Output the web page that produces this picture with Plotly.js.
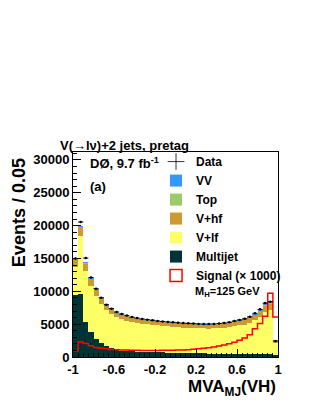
<!DOCTYPE html>
<html>
<head>
<meta charset="utf-8">
<script src="https://cdn.plot.ly/plotly-3.0.1.min.js"></script>
<style>html,body{margin:0;padding:0;background:#fff;}#chart{width:316px;height:409px;}</style>
</head>
<body>
<div id="chart"></div>
<script>
// 40 bins of width 0.05 from -1 to 1
const binLow = -1, binWidth = 0.05, nBins = 40;

const multijet = [9400, 9600, 5400, 3850, 2750, 2100, 1600, 1350, 1100, 950,
  900, 850, 800, 780, 760, 740, 720, 700, 680, 660,
  640, 620, 600, 580, 560, 540, 520, 500, 490, 480,
  470, 460, 450, 450, 450, 450, 450, 450, 450, 300];
const vlf = [4310, 8890, 7700, 6960, 6480, 6020, 5520, 5210, 5000, 4830,
  4650, 4500, 4420, 4300, 4200, 4150, 4080, 4020, 3980, 3930,
  3890, 3860, 3830, 3810, 3800, 3800, 3810, 3850, 3890, 3970,
  4080, 4210, 4350, 4490, 4730, 5140, 5630, 6420, 6720, 1840];
const vhf = [1000, 1250, 1100, 1000, 900, 820, 740, 700, 660, 640,
  620, 610, 600, 590, 580, 575, 570, 565, 560, 560,
  560, 560, 560, 560, 560, 560, 565, 570, 580, 590,
  600, 620, 650, 680, 720, 780, 850, 950, 900, 250];
const topBkg = [40, 60, 60, 55, 50, 50, 45, 45, 45, 45,
  45, 45, 45, 45, 45, 45, 45, 45, 45, 45,
  45, 45, 45, 45, 45, 45, 45, 45, 45, 45,
  50, 50, 50, 55, 55, 60, 70, 80, 80, 20];
const vv = [100, 150, 140, 130, 120, 110, 100, 95, 90, 90,
  90, 90, 90, 90, 90, 90, 90, 90, 90, 90,
  90, 90, 90, 90, 90, 90, 90, 90, 95, 100,
  105, 110, 120, 130, 150, 170, 200, 250, 250, 40];
const dataVals = [15000, 20550, 15050, 12100, 10400, 9000, 7950, 7350, 6850, 6550,
  6300, 6080, 5920, 5780, 5680, 5600, 5480, 5400, 5340, 5280,
  5220, 5160, 5120, 5080, 5040, 5020, 5020, 5040, 5100, 5180,
  5300, 5480, 5650, 5820, 6120, 6650, 7250, 8200, 8420, 2450];
const dataErr = [122, 143, 123, 110, 102, 95, 89, 86, 83, 81,
  79, 78, 77, 76, 75, 75, 74, 73, 73, 73,
  72, 72, 72, 71, 71, 71, 71, 71, 71, 72,
  73, 74, 75, 76, 78, 82, 85, 91, 92, 49];
const signal = [950, 2300, 2050, 1700, 1450, 1350, 1250, 1150, 1100, 1050,
  1050, 1030, 1010, 1000, 990, 990, 1000, 1010, 1020, 1040,
  1050, 1080, 1120, 1180, 1250, 1330, 1420, 1530, 1660, 1820,
  2000, 2250, 2550, 2900, 3400, 4300, 5100, 6200, 9700, 6100];

const xTickVals = [-1, -0.6, -0.2, 0.2, 0.6, 1];
const xTickText = ['-1', '-0.6', '-0.2', '0.2', '0.6', '1'];
const yTickVals = [0, 5000, 10000, 15000, 20000, 25000, 30000];
const yTickText = ['0', '5000', '10000', '15000', '20000', '25000', '30000'];

const centers = [];
const edges = [];
for (let i = 0; i < nBins; i++) {
  centers.push(binLow + binWidth * (i + 0.5));
  edges.push(binLow + binWidth * i);
}
edges.push(binLow + binWidth * nBins);
const sigStep = signal.concat([signal[signal.length - 1]]);
const halfW = centers.map(() => binWidth / 2);

const FONT = 'Liberation Sans, Arial, Helvetica, sans-serif';

function barTrace(name, y, color, rank) {
  return {
    type: 'bar', x: centers, y: y, name: name, width: binWidth,
    marker: {color: color, line: {width: 0}},
    legendrank: rank, hoverinfo: 'skip'
  };
}

const traces = [
  barTrace('Multijet', multijet, '#003333', 6),
  barTrace('V+lf', vlf, '#ffff66', 5),
  barTrace('V+hf', vhf, '#cc9933', 4),
  barTrace('Top', topBkg, '#99cc66', 3),
  barTrace('VV', vv, '#3399ff', 2),
  {
    type: 'scatter', mode: 'lines', x: edges, y: sigStep, line: {shape: 'hv', color: '#ff0000', width: 1.5},
    showlegend: false, hoverinfo: 'skip'
  },
  {
    type: 'bar', x: [null], y: [null], name: 'Signal (× 1000)',
    marker: {color: 'rgba(255,255,255,0)', line: {color: '#ff0000', width: 1.5}},
    legendrank: 7, showlegend: true
  },
  {
    type: 'scatter', mode: 'markers', x: centers, y: dataVals, name: 'Data',
    marker: {symbol: 'circle', size: 2.5, color: '#000'},
    error_y: {type: 'data', array: dataErr, visible: true, color: '#000', thickness: 1, width: 0},
    error_x: {type: 'data', array: halfW, visible: true, color: '#000', thickness: 1, width: 0},
    showlegend: false, hoverinfo: 'skip'
  },
  {
    type: 'scatter', mode: 'markers', x: [null], y: [null], name: 'Data',
    marker: {symbol: 'cross-thin', size: 12, color: '#000', line: {color: '#000', width: 0.8}},
    legendrank: 1, showlegend: true
  }
];

const layout = {
  width: 316, height: 409,
  margin: {l: 73, r: 37.5, t: 152, b: 52},
  paper_bgcolor: '#fff', plot_bgcolor: '#fff',
  barmode: 'stack', bargap: 0,
  font: {family: FONT, size: 13, color: '#000', weight: 'bold'},
  title: {
    text: 'V(→lν)+2 jets, pretag', xref: 'container', yref: 'container',
    x: 60 / 316, xanchor: 'left', y: 1 - 145 / 409, yanchor: 'middle',
    font: {family: FONT, size: 13, weight: 'bold', color: '#000'}
  },
  showlegend: true,
  legend: {
    x: 0.405, y: 1.024, xanchor: 'left', yanchor: 'top',
    bgcolor: 'rgba(255,255,255,0)', borderwidth: 0,
    font: {family: FONT, size: 12, weight: 'bold', color: '#000'},
    traceorder: 'normal', itemsizing: 'trace'
  },
  xaxis: {
    range: [-1, 1], tickmode: 'array', tickvals: xTickVals, ticktext: xTickText,
    ticks: 'inside', ticklen: 8, tickwidth: 1, tickcolor: '#000',
    minor: {dtick: 0.05, tick0: -1, ticks: 'inside', ticklen: 4, tickcolor: '#000', showgrid: false},
    showline: true, linecolor: '#000', linewidth: 1, mirror: true,
    showgrid: false, zeroline: false,
    tickfont: {family: FONT, size: 13, weight: 'bold', color: '#000'}
  },
  yaxis: {
    range: [0, 31200], tickmode: 'array', tickvals: yTickVals, ticktext: yTickText,
    ticks: 'inside', ticklen: 8, tickwidth: 1, tickcolor: '#000',
    minor: {dtick: 1000, tick0: 0, ticks: 'inside', ticklen: 4, tickcolor: '#000', showgrid: false},
    showline: true, linecolor: '#000', linewidth: 1, mirror: true,
    showgrid: false, zeroline: false,
    tickfont: {family: FONT, size: 13, weight: 'bold', color: '#000'}
  },
  annotations: [
    {text: 'Events / 0.05', xref: 'paper', yref: 'paper', x: (19 - 73) / 205.5, y: (357 - 213) / 205,
     xanchor: 'center', yanchor: 'middle', textangle: -90, showarrow: false,
     font: {family: FONT, size: 18, weight: 'bold'}},
    {text: 'MVA<sub>MJ</sub>(VH)', xref: 'paper', yref: 'paper', x: 1, y: (357 - 388) / 205,
     xanchor: 'right', yanchor: 'middle', showarrow: false,
     font: {family: FONT, size: 17, weight: 'bold'}},
    {text: 'DØ, 9.7 fb<sup>-1</sup>', xref: 'paper', yref: 'paper', x: (88 - 73) / 205.5, y: (357 - 163) / 205,
     xanchor: 'left', yanchor: 'middle', showarrow: false,
     font: {family: FONT, size: 13, weight: 'bold'}},
    {text: '(a)', xref: 'paper', yref: 'paper', x: (88 - 73) / 205.5, y: (357 - 186) / 205,
     xanchor: 'left', yanchor: 'middle', showarrow: false,
     font: {family: FONT, size: 13, weight: 'bold'}},
    {text: 'M<sub>H</sub>=125 GeV', xref: 'paper', yref: 'paper', x: (193 - 73) / 205.5, y: (357 - 292) / 205,
     xanchor: 'left', yanchor: 'middle', showarrow: false,
     font: {family: FONT, size: 11, weight: 'bold'}}
  ]
};

Plotly.newPlot('chart', traces, layout, {staticPlot: true, displayModeBar: false});
</script>
</body>
</html>
